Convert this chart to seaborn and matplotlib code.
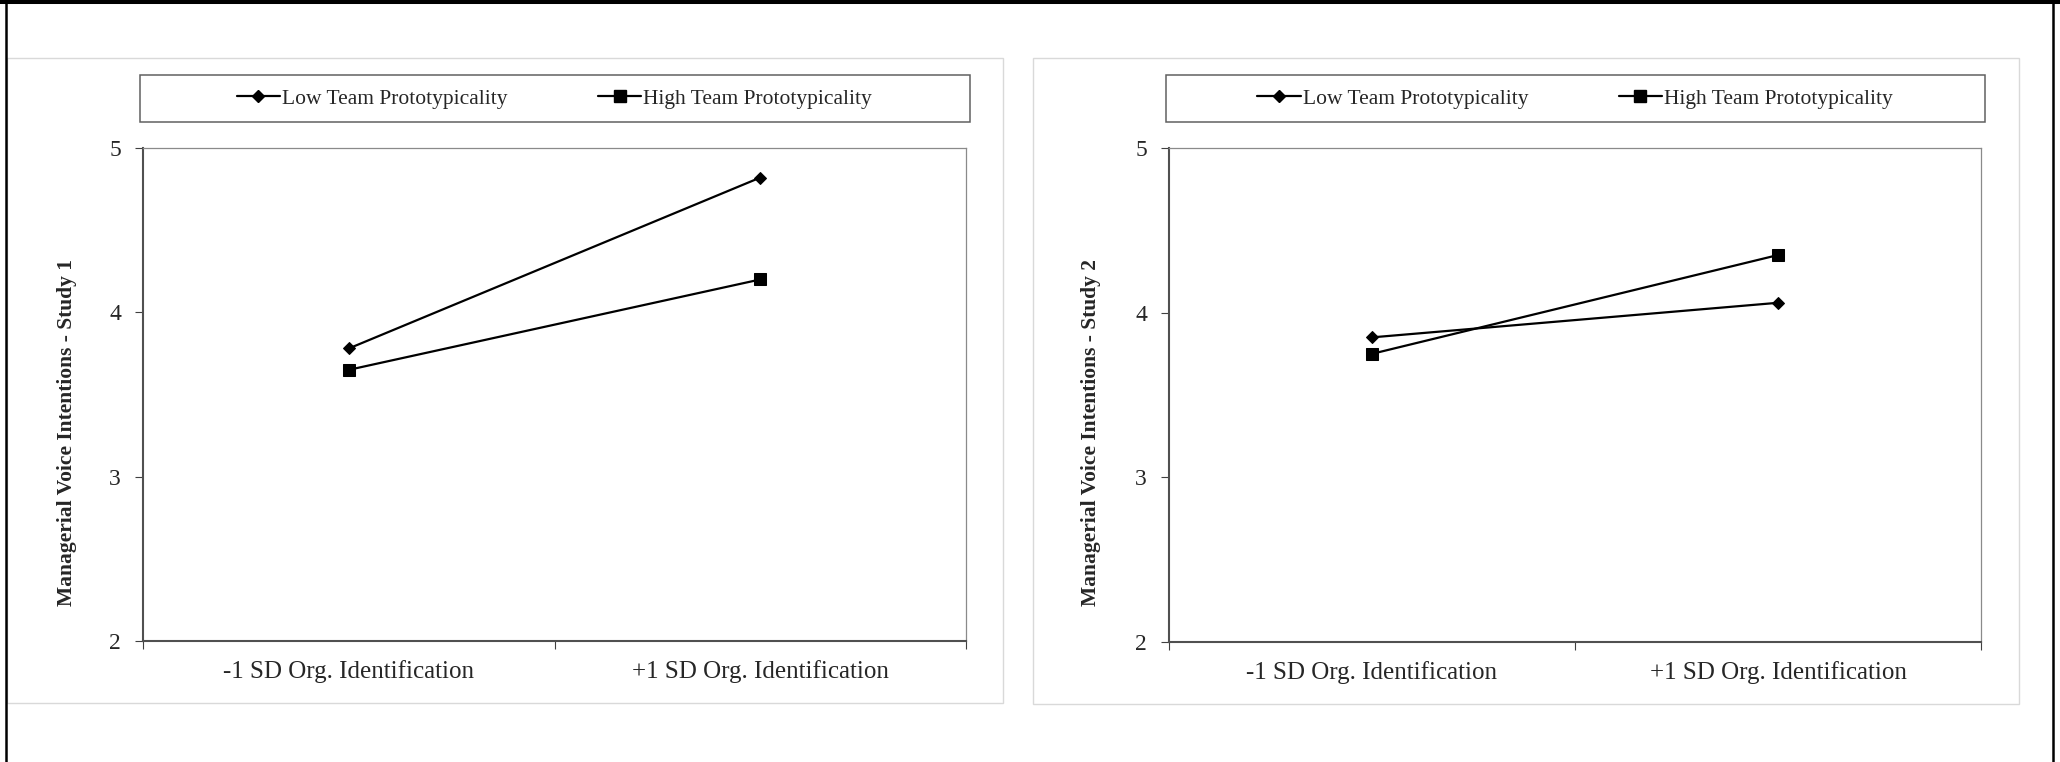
import numpy as np
import pandas as pd
import matplotlib
matplotlib.use("Agg")
import matplotlib.pyplot as plt
from matplotlib.patches import Rectangle
from matplotlib.lines import Line2D
import seaborn as sns

# data
categories = ["-1 SD Org. Identification", "+1 SD Org. Identification"]
series = ["Low Team Prototypicality", "High Team Prototypicality"]
study1_low = [3.78, 4.82]
study1_high = [3.65, 4.20]
study2_low = [3.85, 4.06]
study2_high = [3.75, 4.35]
y_ticks = [2, 3, 4, 5]
y_labels = ["Managerial Voice Intentions - Study 1", "Managerial Voice Intentions - Study 2"]

sns.set_style("white")
plt.rcParams["font.family"] = ["Liberation Serif", "DejaVu Serif"]

W, H = 2060, 762
fig = plt.figure(figsize=(W / 100, H / 100), dpi=100)


def fx(px):
    return px / W


def fy(py):
    return 1 - py / H


markers = {series[0]: ("D", 6.6), series[1]: ("s", 9.0)}

panels = [
    # axes box in px, grey chart box in px, y-label centre x
    dict(ax_px=(143, 148, 966, 641), box=(7, 58, 1003, 703), lab_x=67,
         low=study1_low, high=study1_high, ylabel=y_labels[0]),
    dict(ax_px=(1169, 148, 1981, 642), box=(1033, 58, 2019, 704), lab_x=1091,
         low=study2_low, high=study2_high, ylabel=y_labels[1]),
]

for p in panels:
    # light grey chart-area border
    bx0, by0, bx1, by1 = p["box"]
    fig.patches.append(Rectangle((fx(bx0), fy(by1)), fx(bx1 - bx0), (by1 - by0) / H,
                                 transform=fig.transFigure, fill=False,
                                 edgecolor="#d9d9d9", lw=1.0))

    x0, y0, x1, y1 = p["ax_px"]
    ax = fig.add_axes([fx(x0), fy(y1), fx(x1 - x0), (y1 - y0) / H])

    xpos = np.arange(len(categories)) + 0.5
    df = pd.DataFrame({
        "x": np.concatenate([xpos, xpos]),
        "y": p["low"] + p["high"],
        "series": [series[0]] * 2 + [series[1]] * 2,
    })
    for s in series:
        m, ms = markers[s]
        sns.lineplot(data=df[df["series"] == s], x="x", y="y", color="black",
                     lw=1.6, marker=m, markersize=ms, markeredgecolor="black",
                     label=s, ax=ax, legend=False)

    ax.set_xlim(0, 2)
    ax.set_ylim(2, 5)
    ax.set_yticks(y_ticks)
    ax.set_yticklabels([str(t) for t in y_ticks], fontsize=17)
    ax.set_xticks([0, 1, 2])
    ax.set_xticklabels(["", "", ""])
    ax.set_xticks(xpos, minor=True)
    ax.set_xticklabels(categories, minor=True, fontsize=18)
    ax.tick_params(axis="x", which="minor", bottom=True, length=0, pad=14)
    ax.tick_params(axis="x", which="major", bottom=True, direction="out",
                   length=5.8, width=0.8, color="#404040")
    ax.tick_params(axis="y", left=True, direction="out", length=5.8, width=0.8,
                   color="#404040", pad=10)
    ax.set_xlabel("")

    for side in ["left", "bottom"]:
        ax.spines[side].set_color("#505050")
        ax.spines[side].set_linewidth(1.5)
    for side in ["top", "right"]:
        ax.spines[side].set_color("#8a8a8a")
        ax.spines[side].set_linewidth(0.9)
    ax.grid(False)

    ax.set_ylabel(p["ylabel"], fontsize=15.5, fontweight="bold")
    ax.yaxis.label.set_va("center")
    ax.yaxis.set_label_coords((p["lab_x"] - x0) / (x1 - x0), (y1 - 433) / (y1 - y0))

    # legend box above the plot area
    lx0, lx1, ly0, ly1 = x0 - 3, x1 + 4, 75, 122
    ax.add_patch(Rectangle(((lx0 - x0) / (x1 - x0), (y1 - ly1) / (y1 - y0)),
                           (lx1 - lx0) / (x1 - x0), (ly1 - ly0) / (y1 - y0),
                           transform=ax.transAxes, fill=False, edgecolor="#606060",
                           lw=1.1, clip_on=False))
    handles = [Line2D([], [], color="black", lw=1.6, marker=markers[s][0],
                      markersize=markers[s][1]) for s in series]
    ax.legend(handles, series, loc="center", ncol=2, frameon=False,
              bbox_to_anchor=(0.5, (y1 - (ly0 + ly1) / 2) / (y1 - y0)),
              fontsize=15.5, handlelength=2.0, handletextpad=0.1,
              columnspacing=4.2)

# black frame of the original page (top, left, right)
fig.add_artist(Line2D([0, 1], [fy(2), fy(2)], transform=fig.transFigure,
                      color="black", lw=2.9))
fig.add_artist(Line2D([fx(6), fx(6)], [0, 1], transform=fig.transFigure,
                      color="black", lw=1.8))
fig.add_artist(Line2D([fx(2053), fx(2053)], [0, 1], transform=fig.transFigure,
                      color="black", lw=1.8))

fig.savefig("out.png", dpi=100, facecolor="white")
